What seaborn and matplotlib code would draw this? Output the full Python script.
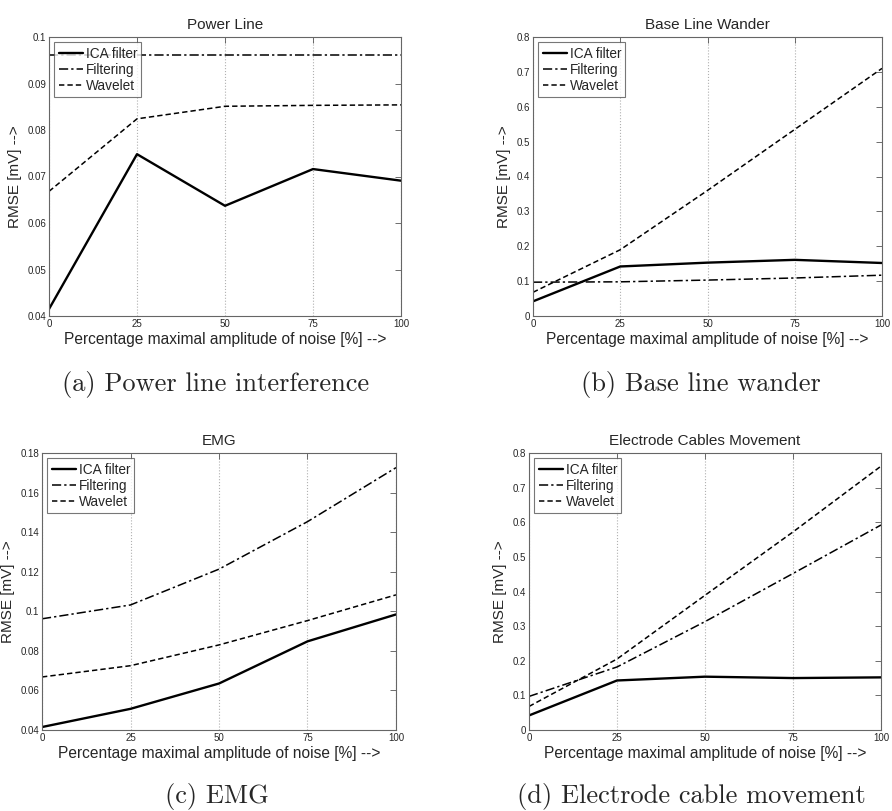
import numpy as np
import pandas as pd
import matplotlib
matplotlib.use("Agg")
import matplotlib.pyplot as plt
import seaborn as sns
from matplotlib.ticker import FuncFormatter

noise_pct = [0, 25, 50, 75, 100]
methods = ["ICA filter", "Filtering", "Wavelet"]

# Power line interference
power_ica = [0.0415, 0.0748, 0.0637, 0.0716, 0.0691]
power_filt = [0.0961, 0.0961, 0.0961, 0.0961, 0.0961]
power_wav = [0.0668, 0.0824, 0.0851, 0.0853, 0.0854]

# Base line wander
blw_ica = [0.042, 0.142, 0.153, 0.161, 0.152]
blw_filt = [0.097, 0.098, 0.103, 0.109, 0.117]
blw_wav = [0.068, 0.190, 0.360, 0.535, 0.710]

# EMG
emg_ica = [0.0415, 0.0507, 0.0635, 0.0848, 0.0984]
emg_filt = [0.0962, 0.1032, 0.1213, 0.1453, 0.1726]
emg_wav = [0.0668, 0.0725, 0.0830, 0.0953, 0.1083]

# Electrode cables movement
ecm_ica = [0.042, 0.143, 0.154, 0.150, 0.152]
ecm_filt = [0.097, 0.182, 0.313, 0.452, 0.592]
ecm_wav = [0.068, 0.205, 0.389, 0.572, 0.762]

titles = ["Power Line", "Base Line Wander", "EMG", "Electrode Cables Movement"]
captions = ["(a) Power line interference", "(b) Base line wander",
            "(c) EMG", "(d) Electrode cable movement"]
y_limits = [(0.04, 0.1), (0, 0.8), (0.04, 0.18), (0, 0.8)]
y_steps = [0.01, 0.1, 0.02, 0.1]


def to_long(ica, filt, wav):
    rows = []
    for m, vals in zip(methods, [ica, filt, wav]):
        for x, v in zip(noise_pct, vals):
            rows.append({"noise": x, "rmse": v, "method": m})
    return pd.DataFrame(rows)


panels = [
    to_long(power_ica, power_filt, power_wav),
    to_long(blw_ica, blw_filt, blw_wav),
    to_long(emg_ica, emg_filt, emg_wav),
    to_long(ecm_ica, ecm_filt, ecm_wav),
]

sns.set_style("white")
plt.rcParams['font.family'] = ['Liberation Sans', 'DejaVu Sans']

fig = plt.figure(figsize=(8.92, 8.11), dpi=100)
W, H = 892, 811
# axes boxes in pixels: left, top, right, bottom
boxes = [(49, 37, 401, 316), (533, 37, 882, 316),
         (42, 453, 396, 730), (529, 453, 881, 730)]
cap_pos = [(216, 385), (701, 385), (217, 797), (691, 797)]

line_w = {"ICA filter": 1.7, "Filtering": 1.1, "Wavelet": 1.1}
dash_map = {"ICA filter": "", "Filtering": (6, 2, 1.5, 2), "Wavelet": (3.5, 2)}

for i, df in enumerate(panels):
    x0, y0, x1, y1 = boxes[i]
    ax = fig.add_axes([x0 / W, 1 - y1 / H, (x1 - x0) / W, (y1 - y0) / H])
    for m in methods:
        sub = df[df["method"] == m]
        sns.lineplot(data=sub, x="noise", y="rmse", ax=ax, color="black",
                     linewidth=line_w[m], label=m)
        ln = ax.get_lines()[-1]
        if dash_map[m]:
            ln.set_dashes(dash_map[m])
    ax.set_xlim(0, 100)
    ax.set_ylim(*y_limits[i])
    ax.set_xticks(noise_pct)
    lo, hi = y_limits[i]
    ax.set_yticks(np.arange(lo, hi + y_steps[i] / 2, y_steps[i]))
    ax.yaxis.set_major_formatter(FuncFormatter(lambda v, p: "%g" % round(v, 3)))
    ax.tick_params(direction="in", length=4, labelsize=7, top=True, right=True,
                   width=0.6, color="#555555", pad=2)
    ax.xaxis.grid(True, linestyle=":", color="#b0b0b0", linewidth=0.8)
    ax.yaxis.grid(False)
    for s in ax.spines.values():
        s.set_color("#666666")
        s.set_linewidth(0.8)
    ax.set_title(titles[i], fontsize=11, pad=6)
    ax.set_xlabel("Percentage maximal amplitude of noise [%] -->", fontsize=11.2, labelpad=2)
    ax.set_ylabel("RMSE [mV] -->", fontsize=11, labelpad=4)
    leg = ax.legend(loc="upper left", fontsize=9.8, frameon=True, fancybox=False,
                    borderpad=0.3, labelspacing=0.15, handlelength=1.8,
                    handletextpad=0.2, borderaxespad=0.4)
    leg.get_frame().set_edgecolor("#555555")
    leg.get_frame().set_linewidth(0.8)
    cx, cy = cap_pos[i]
    fig.text(cx / W, 1 - cy / H, captions[i], ha="center", va="center",
             fontsize=19, family="cmr10")

fig.savefig("out.png", dpi=100)
